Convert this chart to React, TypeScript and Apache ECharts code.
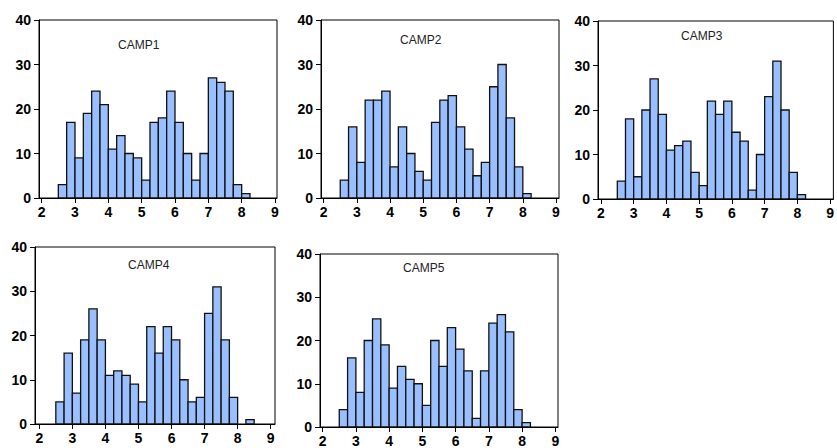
import React, { useEffect, useRef } from "react";
import * as echarts from "echarts";

// Histogram bins: start 2.5, width 0.25
const BIN_START = 2.5;
const BIN_WIDTH = 0.25;

const camp1 = [3, 17, 9, 19, 24, 21, 11, 14, 10, 9, 4, 17, 18, 24, 17, 10, 4, 10, 27, 26, 24, 3, 1];
const camp2 = [4, 16, 8, 22, 22, 24, 7, 16, 10, 6, 4, 17, 22, 23, 16, 11, 5, 8, 25, 30, 18, 7, 1];
const camp3 = [4, 18, 5, 20, 27, 19, 11, 12, 13, 6, 3, 22, 19, 22, 15, 13, 2, 10, 23, 31, 20, 6, 1];
const camp4 = [5, 16, 7, 19, 26, 19, 11, 12, 11, 9, 5, 22, 16, 22, 19, 10, 5, 6, 25, 31, 19, 6, 0, 1];
const camp5 = [4, 16, 8, 20, 25, 19, 9, 14, 11, 10, 5, 20, 14, 23, 18, 13, 2, 13, 24, 26, 22, 4, 1];

const seriesNames = ["CAMP1", "CAMP2", "CAMP3", "CAMP4", "CAMP5"];
const seriesCounts = [camp1, camp2, camp3, camp4, camp5];

const xTickValues = [2, 3, 4, 5, 6, 7, 8, 9];
const yMin = 0;
const yMax = 40;
const yInterval = 10;

// layout per panel (pixels) and axis extents
const panels = [
  { left: 39, top: 20, width: 238, height: 178, xMin: 1.92, xMax: 9.06, titleX: 118, titleY: 39 },
  { left: 321, top: 20, width: 238, height: 178, xMin: 1.92, xMax: 9.09, titleX: 400, titleY: 34 },
  { left: 598, top: 21, width: 237, height: 178, xMin: 1.91, xMax: 9.1, titleX: 681, titleY: 30 },
  { left: 35, top: 247, width: 240, height: 177, xMin: 1.87, xMax: 9.13, titleX: 128, titleY: 259 },
  { left: 320, top: 254, width: 238, height: 178, xMin: 1.92, xMax: 9.08, titleX: 403, titleY: 262 },
];

const FONT = "'Liberation Sans', Arial, sans-serif";

export default function App() {
  const ref = useRef<HTMLDivElement>(null);

  useEffect(() => {
    if (!ref.current) return;
    const chart = echarts.init(ref.current, undefined, { renderer: "svg" });

    const grid = panels.map((p) => ({
      left: p.left,
      top: p.top,
      width: p.width,
      height: p.height,
      show: true,
      borderColor: "#000",
      borderWidth: 1,
      backgroundColor: "#fff",
      containLabel: false,
    }));

    const xAxis = panels.map((p, i) => ({
      type: "value",
      gridIndex: i,
      min: p.xMin,
      max: p.xMax,
      axisLine: { show: true, lineStyle: { color: "#000", width: 1 } },
      axisTick: {
        show: true,
        length: 5,
        inside: false,
        customValues: xTickValues,
        lineStyle: { color: "#000" },
      },
      axisLabel: {
        customValues: xTickValues,
        color: "#000",
        fontWeight: "bold",
        fontSize: 14,
        fontFamily: FONT,
        margin: 7,
      },
      splitLine: { show: false },
    }));

    const yAxis = panels.map((p, i) => ({
      type: "value",
      gridIndex: i,
      min: yMin,
      max: yMax,
      interval: yInterval,
      axisLine: { show: true, lineStyle: { color: "#000", width: 1 } },
      axisTick: { show: true, length: 5, inside: false, lineStyle: { color: "#000" } },
      axisLabel: {
        color: "#000",
        fontWeight: "bold",
        fontSize: 14,
        fontFamily: FONT,
        margin: 8,
      },
      splitLine: { show: false },
    }));

    const series = seriesCounts.map((counts, i) => ({
      type: "custom",
      name: seriesNames[i],
      xAxisIndex: i,
      yAxisIndex: i,
      clip: true,
      data: counts.map((c, k) => [BIN_START + k * BIN_WIDTH, BIN_START + (k + 1) * BIN_WIDTH, c]),
      encode: { x: [0, 1], y: 2 },
      renderItem: (params: any, api: any) => {
        const count = api.value(2);
        if (!count) return null;
        const tl = api.coord([api.value(0), count]);
        const br = api.coord([api.value(1), 0]);
        return {
          type: "rect",
          shape: { x: tl[0], y: tl[1], width: br[0] - tl[0], height: br[1] - tl[1] },
          style: { fill: "#99BFFF", stroke: "#111", lineWidth: 1.3 },
        };
      },
    }));

    const title = panels.map((p, i) => ({
      text: seriesNames[i],
      left: p.titleX,
      top: p.titleY,
      padding: 0,
      textStyle: { fontSize: 12, fontWeight: "normal", color: "#222", fontFamily: FONT },
    }));

    chart.setOption({
      animation: false,
      backgroundColor: "#fff",
      title,
      grid,
      xAxis,
      yAxis,
      series,
    } as any);

    return () => chart.dispose();
  }, []);

  return (
    <div
      ref={ref}
      style={{ position: "fixed", left: 0, top: 0, width: 837, height: 448, background: "#fff" }}
    />
  );
}
